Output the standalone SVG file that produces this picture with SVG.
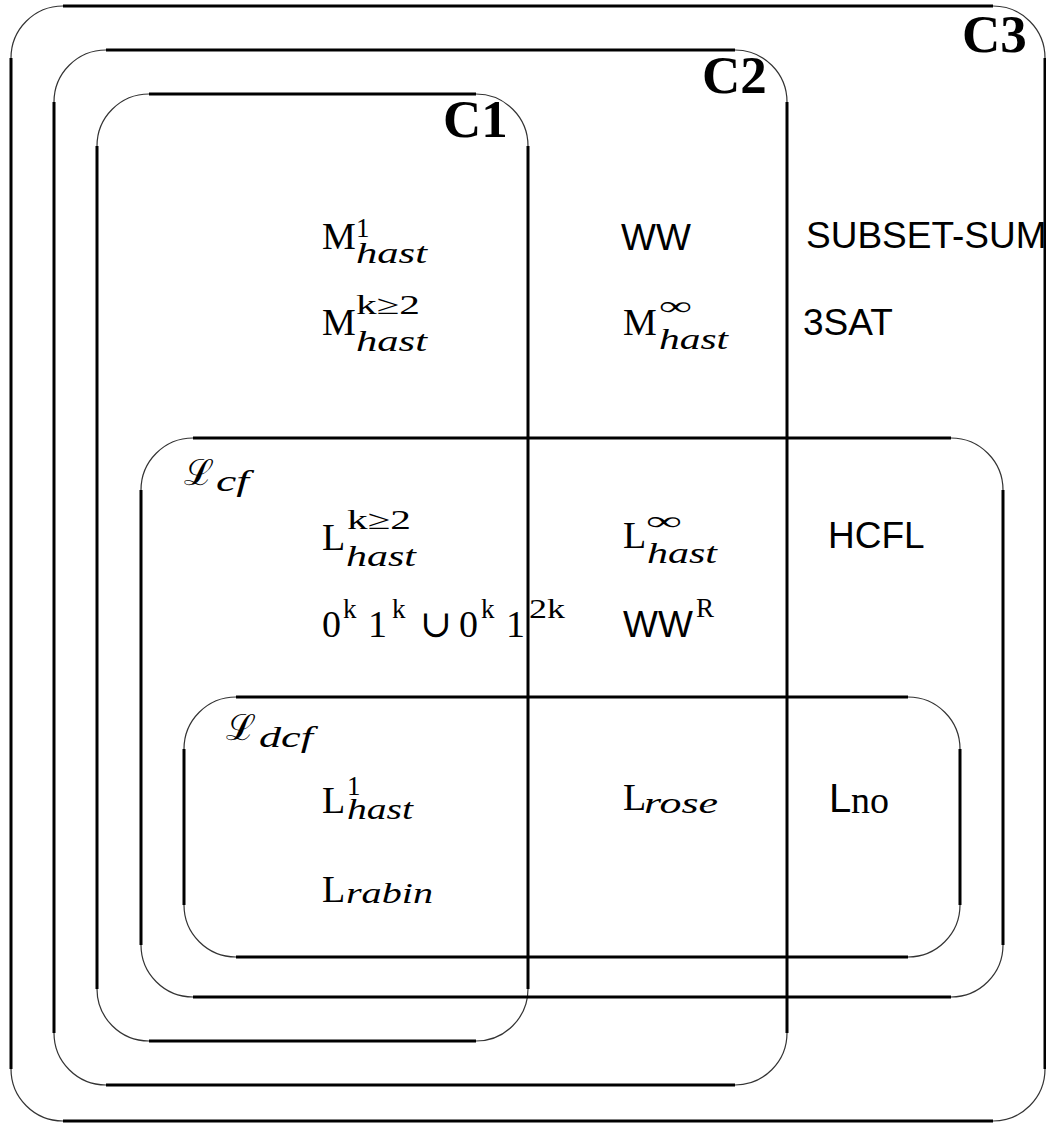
<svg xmlns="http://www.w3.org/2000/svg" width="1046" height="1127" viewBox="0 0 1046 1127">
<style>
.ln{fill:none;stroke:#000;stroke-width:3}
.arc{fill:none;stroke:#333;stroke-width:1.2}
.rm{font-family:"Liberation Serif","DejaVu Serif",serif;font-size:38px;fill:#000}
.sup{font-family:"Liberation Serif","DejaVu Serif",serif;font-size:27px;fill:#000}
.sub{font-family:"Liberation Serif","DejaVu Serif",serif;font-size:30px;font-style:italic;fill:#000}
.sf{font-family:"Liberation Sans",Arial,sans-serif;font-size:37px;fill:#000}
.big{font-family:"Liberation Serif","DejaVu Serif",serif;font-size:53px;font-weight:bold;fill:#000}
.scr{font-family:"DejaVu Serif","Noto Sans",serif;font-size:36px;font-style:italic;fill:#000}
</style>
<rect width="1046" height="1127" fill="#fff"/>
<g id="C3">
<path class="ln" d="M63 6H993M1045 58V1069M993 1121H63M11 1069V58"/>
<path class="arc" d="M11 58A52 52 0 0 1 63 6M993 6A52 52 0 0 1 1045 58M1045 1069A52 52 0 0 1 993 1121M63 1121A52 52 0 0 1 11 1069"/>
<text class="big" x="962" y="52">C3</text>
</g>
<g id="C2">
<path class="ln" d="M106 50H735M787 102V1033M735 1085H106M54 1033V102"/>
<path class="arc" d="M54 102A52 52 0 0 1 106 50M735 50A52 52 0 0 1 787 102M787 1033A52 52 0 0 1 735 1085M106 1085A52 52 0 0 1 54 1033"/>
<text class="big" x="702" y="93">C2</text>
</g>
<g id="C1">
<path class="ln" d="M149 94H476M528 146V989M476 1041H149M97 989V146"/>
<path class="arc" d="M97 146A52 52 0 0 1 149 94M476 94A52 52 0 0 1 528 146M528 989A52 52 0 0 1 476 1041M149 1041A52 52 0 0 1 97 989"/>
<text class="big" x="443" y="137">C1</text>
</g>
<g id="Lcf">
<path class="ln" d="M193 438H951M1003 490V945M951 997H193M141 945V490"/>
<path class="arc" d="M141 490A52 52 0 0 1 193 438M951 438A52 52 0 0 1 1003 490M1003 945A52 52 0 0 1 951 997M193 997A52 52 0 0 1 141 945"/>
<text class="scr" x="184" y="485">ℒ</text>
<text class="sub" x="216" y="491" textLength="33" lengthAdjust="spacingAndGlyphs">cf</text>
</g>
<g id="Ldcf">
<path class="ln" d="M236 697H908M960 749V905M908 957H236M184 905V749"/>
<path class="arc" d="M184 749A52 52 0 0 1 236 697M908 697A52 52 0 0 1 960 749M960 905A52 52 0 0 1 908 957M236 957A52 52 0 0 1 184 905"/>
<text class="scr" x="226" y="740">ℒ</text>
<text class="sub" x="259" y="747" textLength="54" lengthAdjust="spacingAndGlyphs">dcf</text>
</g>
<g id="M1hast">
<text class="rm" x="322" y="249">M</text>
<text class="sup" x="356" y="237">1</text>
<text class="sub" x="356" y="263" textLength="71" lengthAdjust="spacingAndGlyphs">hast</text>
</g>
<g id="Mk2hast">
<text class="rm" x="322" y="335">M</text>
<text class="sup" x="356" y="314" textLength="64" lengthAdjust="spacingAndGlyphs">k≥2</text>
<text class="sub" x="356" y="351" textLength="71" lengthAdjust="spacingAndGlyphs">hast</text>
</g>
<g id="WW"><text class="sf" x="621" y="250">WW</text></g>
<g id="Minfhast">
<text class="rm" x="623" y="335">M</text>
<text class="sup" x="659" y="315" textLength="33" lengthAdjust="spacingAndGlyphs">∞</text>
<text class="sub" x="659" y="349" textLength="69" lengthAdjust="spacingAndGlyphs">hast</text>
</g>
<g id="SUBSETSUM"><text class="sf" x="806" y="248">SUBSET-SUM</text></g>
<g id="SAT3"><text class="sf" x="803" y="335">3SAT</text></g>
<g id="Lk2hast">
<text class="rm" x="322" y="550">L</text>
<text class="sup" x="347" y="529" textLength="64" lengthAdjust="spacingAndGlyphs">k≥2</text>
<text class="sub" x="346" y="566" textLength="70" lengthAdjust="spacingAndGlyphs">hast</text>
</g>
<g id="Linfhast">
<text class="rm" x="623" y="548">L</text>
<text class="sup" x="646" y="530" textLength="36" lengthAdjust="spacingAndGlyphs">∞</text>
<text class="sub" x="647" y="563" textLength="70" lengthAdjust="spacingAndGlyphs">hast</text>
</g>
<g id="HCFL"><text class="sf" x="828" y="548">HCFL</text></g>
<g id="expr">
<text class="rm" x="322" y="637">0</text>
<text class="sup" x="343" y="618">k</text>
<text class="rm" x="368" y="637">1</text>
<text class="sup" x="392" y="618">k</text>
<text class="rm" x="420" y="637">∪</text>
<text class="rm" x="459" y="637">0</text>
<text class="sup" x="481" y="618">k</text>
<text class="rm" x="506" y="637">1</text>
<text class="sup" x="529" y="618" textLength="36" lengthAdjust="spacingAndGlyphs">2k</text>
</g>
<g id="WWR">
<text class="sf" x="623" y="637">WW</text>
<text class="sup" x="696" y="617">R</text>
</g>
<g id="L1hast">
<text class="rm" x="322" y="813">L</text>
<text class="sup" x="347" y="795">1</text>
<text class="sub" x="347" y="819" textLength="66" lengthAdjust="spacingAndGlyphs">hast</text>
</g>
<g id="Lrabin">
<text class="rm" x="322" y="902">L</text>
<text class="sub" x="346" y="903" textLength="87" lengthAdjust="spacingAndGlyphs">rabin</text>
</g>
<g id="Lrose">
<text class="rm" x="623" y="810">L</text>
<text class="sub" x="644" y="813" textLength="74" lengthAdjust="spacingAndGlyphs">rose</text>
</g>
<g id="Lno">
<text class="sf" x="829" y="812" style="font-size:40px">L</text>
<text class="rm" x="851" y="813" style="font-size:38px">no</text>
</g>
</svg>
